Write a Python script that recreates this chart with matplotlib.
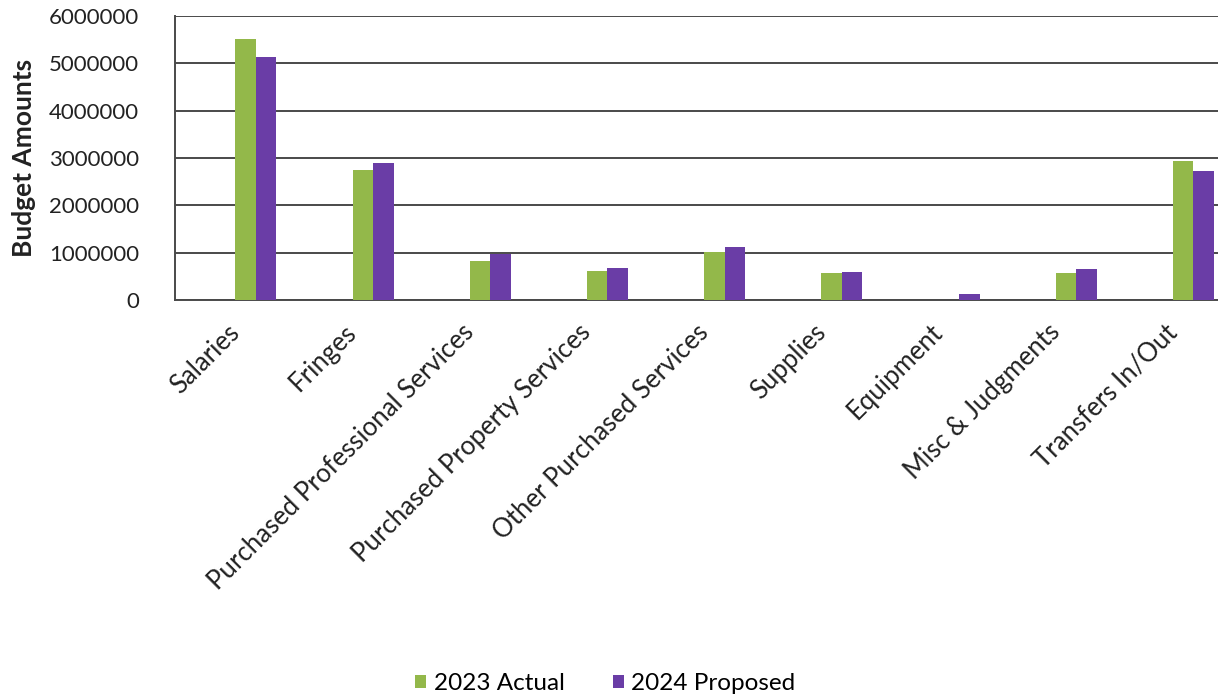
import matplotlib
matplotlib.use("Agg")
import matplotlib.pyplot as plt
import matplotlib.transforms as mtransforms
import numpy as np

categories = ["Salaries", "Fringes", "Purchased Professional Services",
              "Purchased Property Services", "Other Purchased Services",
              "Supplies", "Equipment", "Misc & Judgments", "Transfers In/Out"]
actual_2023 = [5510000, 2750000, 820000, 620000, 1010000, 580000, 5000, 580000, 2940000]
proposed_2024 = [5140000, 2890000, 970000, 670000, 1130000, 590000, 130000, 660000, 2730000]
yticks = [0, 1000000, 2000000, 3000000, 4000000, 5000000, 6000000]

green = "#93B84A"
purple = "#6A3DA6"

plt.rcParams['font.family'] = ['Lato', 'DejaVu Sans']

fig = plt.figure(figsize=(12.18, 6.96), dpi=100)
ax = fig.add_axes([175/1218, 1-300/696, 1-175/1218, (300-16)/696])

x = np.arange(len(categories))
w = 0.175
ax.bar(x - w/2, actual_2023, width=w, color=green, label="2023 Actual", zorder=3)
ax.bar(x + w/2, proposed_2024, width=w, color=purple, label="2024 Proposed", zorder=3)

ax.set_xlim(-0.69, 8.21)
ax.set_ylim(0, 6000000)
ax.set_yticks(yticks)
ax.set_yticklabels([str(v) for v in yticks], fontsize=16, color="#222222")
ax.tick_params(axis='y', length=0, pad=26)
ax.yaxis.grid(True, color="#4a4a4a", linewidth=1.4, zorder=0)
ax.set_axisbelow(True)

ax.set_xticks(x)
ax.set_xticklabels(categories, rotation=45, ha='right', rotation_mode='anchor',
                   fontsize=18.5, color="#222222")
ax.tick_params(axis='x', length=0, pad=12)
offset = mtransforms.ScaledTranslation(-0.29, -0.03, fig.dpi_scale_trans)
for lab in ax.get_xticklabels():
    lab.set_transform(lab.get_transform() + offset)

for s in ['top', 'right']:
    ax.spines[s].set_visible(False)
ax.spines['left'].set_color("#4a4a4a")
ax.spines['left'].set_linewidth(1.4)
ax.spines['bottom'].set_color("#4a4a4a")
ax.spines['bottom'].set_linewidth(1.4)

ax.set_ylabel("Budget Amounts", fontsize=19, fontweight='bold', color="#222222")
ax.yaxis.set_label_coords(-139/1043, 0.5)

fig.legend(loc='center', bbox_to_anchor=(0.497, 0.018), ncol=2, frameon=False,
           fontsize=17.5, handlelength=0.45, handleheight=0.45, columnspacing=2.0,
           handletextpad=0.3)

fig.savefig("out.png", dpi=100)
